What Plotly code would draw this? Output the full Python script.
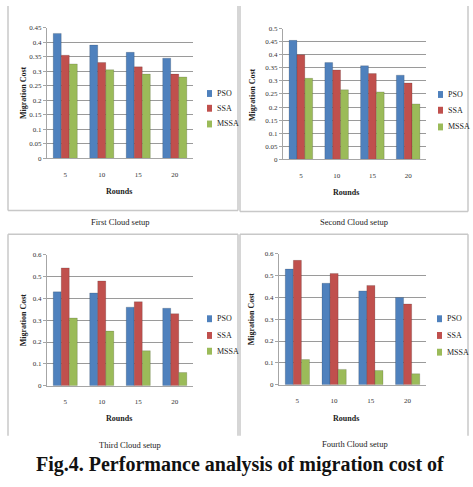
import plotly.graph_objects as go

W, H = 473, 487
rounds = ["5", "10", "15", "20"]
series_names = ["PSO", "SSA", "MSSA"]
colors = ["#4f81bd", "#c0504d", "#9bbb59"]

# values per setup
pso1 = [0.43, 0.39, 0.365, 0.345]
ssa1 = [0.355, 0.33, 0.315, 0.29]
mssa1 = [0.325, 0.305, 0.29, 0.28]

pso2 = [0.455, 0.37, 0.358, 0.322]
ssa2 = [0.40, 0.342, 0.328, 0.292]
mssa2 = [0.31, 0.266, 0.258, 0.212]

pso3 = [0.43, 0.425, 0.36, 0.355]
ssa3 = [0.54, 0.48, 0.385, 0.33]
mssa3 = [0.31, 0.25, 0.16, 0.06]

pso4 = [0.53, 0.465, 0.43, 0.40]
ssa4 = [0.57, 0.51, 0.455, 0.37]
mssa4 = [0.115, 0.07, 0.065, 0.05]

y_ranges = [[0, 0.45], [0, 0.5], [0, 0.6], [0, 0.6]]
y_dticks = [0.05, 0.05, 0.1, 0.1]
subtitles = ["First Cloud setup", "Second Cloud setup", "Third Cloud setup", "Fourth Cloud setup"]
caption = "Fig.4. Performance analysis of migration cost of"

setups = [(pso1, ssa1, mssa1), (pso2, ssa2, mssa2), (pso3, ssa3, mssa3), (pso4, ssa4, mssa4)]


def px(x):
    return x / W


def py(y):
    return 1 - y / H


plot_boxes = [  # x0, x1, ytop, ybottom in pixels
    (47, 193, 24, 157),
    (283, 426, 25, 158),
    (47, 193, 255, 388),
    (279, 426, 254, 387),
]
legend_marker_x = [207, 438, 207, 437]
legend_rows = [(91, 106, 122), (92, 108, 125), (320, 337, 353), (320, 337, 354)]
ytitle_x = [23, 253, 23, 251]
rounds_pos = [(119, 191), (346, 192), (119, 421), (346, 421)]
sub_pos = [(120, 222), (354, 222), (130, 448), (355, 447)]

FONT = "Liberation Serif"
fig = go.Figure()
layout = dict(
    width=W, height=H, margin=dict(l=0, r=0, t=0, b=0),
    paper_bgcolor="white", plot_bgcolor="white",
    barmode="group", bargap=0.34, bargroupgap=0.0,
    font=dict(family=FONT, size=8, color="#222"),
    showlegend=False,
)
annotations = []
shapes = []

for i, vals in enumerate(setups):
    n = i + 1
    xa = "x" if n == 1 else f"x{n}"
    ya = "y" if n == 1 else f"y{n}"
    for name, v, c in zip(series_names, vals, colors):
        fig.add_trace(go.Bar(
            x=rounds, y=v, name=name,
            marker=dict(color=c, line=dict(width=0.6, color="rgba(0,0,0,0.25)")),
            xaxis=xa, yaxis=ya,
        ))
    x0, x1, yt, yb = plot_boxes[i]
    layout["xaxis" if n == 1 else f"xaxis{n}"] = dict(
        domain=[px(x0), px(x1)], anchor=ya, type="category",
        showgrid=False, showline=True, linecolor="#a6a6a6", linewidth=1,
        ticks="outside", ticklen=9, tickcolor="rgba(0,0,0,0)",
        tickfont=dict(family=FONT, size=7, color="#333"),
        title=None, fixedrange=True,
    )
    layout["yaxis" if n == 1 else f"yaxis{n}"] = dict(
        domain=[py(yb), py(yt)], anchor=xa, range=y_ranges[i], dtick=y_dticks[i],
        showgrid=True, gridcolor="#9a9a9a", gridwidth=1,
        showline=True, linecolor="#a6a6a6", linewidth=1,
        ticks="outside", ticklen=3, tickcolor="#a6a6a6",
        tickfont=dict(family=FONT, size=7, color="#333"),
        zeroline=False, fixedrange=True,
    )
    # legend (drawn per panel)
    mx = legend_marker_x[i]
    for name, c, ry in zip(series_names, colors, legend_rows[i]):
        shapes.append(dict(type="rect", xref="paper", yref="paper",
                           x0=px(mx), x1=px(mx + 5), y0=py(ry + 3.5), y1=py(ry - 3.5),
                           fillcolor=c, line=dict(width=0)))
        annotations.append(dict(
            text=name, x=px(mx + 8), y=py(ry), xref="paper", yref="paper",
            xanchor="left", yanchor="middle", showarrow=False,
            font=dict(family=FONT, size=8, color="#222"),
        ))
    annotations.append(dict(
        text="<b>Migration Cost</b>", x=px(ytitle_x[i]), y=py((yt + yb) / 2),
        xref="paper", yref="paper", textangle=-90, showarrow=False,
        xanchor="center", yanchor="middle",
        font=dict(family=FONT, size=8, color="#222"),
    ))
    rx, ry = rounds_pos[i]
    annotations.append(dict(
        text="<b>Rounds</b>", x=px(rx), y=py(ry), xref="paper", yref="paper",
        xanchor="center", yanchor="middle",
        showarrow=False, font=dict(family=FONT, size=8, color="#222"),
    ))
    sx, sy = sub_pos[i]
    annotations.append(dict(
        text=subtitles[i], x=px(sx), y=py(sy), xref="paper", yref="paper",
        xanchor="center", yanchor="middle",
        showarrow=False, font=dict(family=FONT, size=8.5, color="#222"),
    ))

annotations.append(dict(
    text="<b>" + caption + "</b>", x=px(240), y=py(468), xref="paper", yref="paper",
    xanchor="center", yanchor="middle",
    showarrow=False, font=dict(family=FONT, size=20, color="#111"),
))

frame_lines = [
    (8, 2, 8, 210), (238, 2, 238, 210), (8, 210, 238, 210),
    (240, 2, 240, 211), (468, 2, 468, 211), (240, 211, 468, 211),
    (8, 234, 238, 234), (8, 234, 8, 439), (238, 234, 238, 439),
    (240, 234, 468, 234), (240, 234, 240, 439), (468, 234, 468, 439),
]
for lx0, ly0, lx1, ly1 in frame_lines:
    shapes.append(dict(type="line", xref="paper", yref="paper",
                       x0=px(lx0), x1=px(lx1), y0=py(ly0), y1=py(ly1),
                       line=dict(color="#c8c8c8", width=1.5), layer="below"))

layout["annotations"] = annotations
layout["shapes"] = shapes
fig.update_layout(**layout)
fig.write_html("out.html")
